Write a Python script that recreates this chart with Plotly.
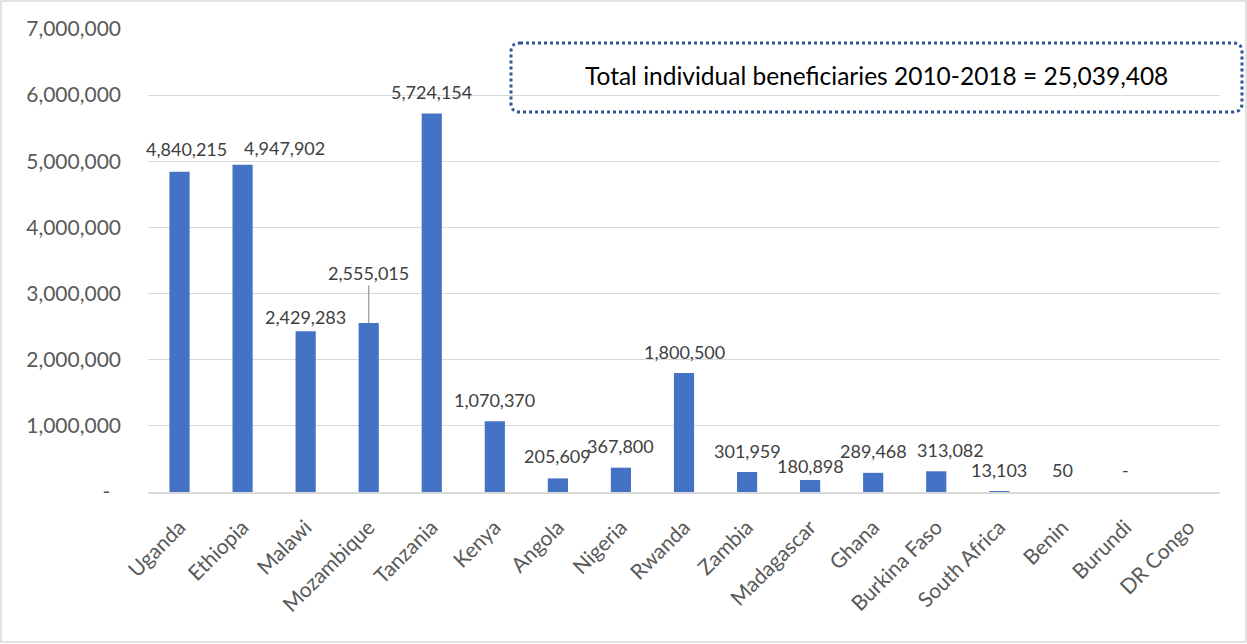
import plotly.graph_objects as go

# Beneficiaries per country, 2010-2018
countries = ["Uganda", "Ethiopia", "Malawi", "Mozambique", "Tanzania", "Kenya",
             "Angola", "Nigeria", "Rwanda", "Zambia", "Madagascar", "Ghana",
             "Burkina Faso", "South Africa", "Benin", "Burundi", "DR Congo"]
beneficiaries = [4840215, 4947902, 2429283, 2555015, 5724154, 1070370,
                 205609, 367800, 1800500, 301959, 180898, 289468,
                 313082, 13103, 50, 0, None]

y_tick_values = [0, 1000000, 2000000, 3000000, 4000000, 5000000, 6000000, 7000000]
y_tick_labels = ["-\u00a0\u00a0", "1,000,000", "2,000,000", "3,000,000", "4,000,000",
                 "5,000,000", "6,000,000", "7,000,000"]
total_text = "Total individual beneficiaries 2010-2018 = 25,039,408"

# Pixel offsets of each value label relative to the top of its bar
label_dx = [7, 42, 0, 0, 0, 0, 0, 0, 0, 0, 0, 0, 14, 0, 0, 0, 0]
label_dy = [23, 17, 14, 50, 21, 21, 22, 22, 21, 21, 14, 22, 21, 21, 22, 22, 0]
leader_line = "Mozambique"

W, H = 1247, 644
L, R, T, B = 148, 1220, 29, 492
FONT = "Lato, 'Liberation Sans', Arial, sans-serif"
BAR_COLOR = "#4472C4"


def px_x(px):
    return (px - L) / (R - L)


def px_y(py):
    return (B - py) / (B - T)


fig = go.Figure(go.Bar(
    x=countries, y=beneficiaries, marker=dict(color=BAR_COLOR, line=dict(width=0)),
    width=0.32, hoverinfo="x+y",
))

annotations = []
for name, val, dx, dy in zip(countries, beneficiaries, label_dx, label_dy):
    if val is None:
        continue
    text = "-" if val == 0 else f"{val:,}"
    if name == leader_line:
        annotations.append(dict(
            x=name, y=val, xref="x", yref="y", text=text, showarrow=True,
            arrowhead=0, arrowwidth=1.5, arrowcolor="#A6A6A6", ax=dx, ay=-dy,
            standoff=0, font=dict(family=FONT, size=18, color="#404040"),
        ))
    else:
        annotations.append(dict(
            x=name, y=val, xref="x", yref="y", text=text, showarrow=False,
            xshift=dx, yshift=dy, yanchor="middle",
            font=dict(family=FONT, size=18, color="#404040"),
        ))

# Summary text inside the dotted box
annotations.append(dict(
    x=px_x(876), y=px_y(75), xref="paper", yref="paper", text=total_text,
    showarrow=False, xanchor="center", yanchor="middle",
    font=dict(family=FONT, size=24.5, color="#000000"),
))


def rounded_rect(x0, y0, x1, y1, r):
    pts = [
        f"M {px_x(x0 + r)},{px_y(y0)}",
        f"L {px_x(x1 - r)},{px_y(y0)}",
        f"Q {px_x(x1)},{px_y(y0)} {px_x(x1)},{px_y(y0 + r)}",
        f"L {px_x(x1)},{px_y(y1 - r)}",
        f"Q {px_x(x1)},{px_y(y1)} {px_x(x1 - r)},{px_y(y1)}",
        f"L {px_x(x0 + r)},{px_y(y1)}",
        f"Q {px_x(x0)},{px_y(y1)} {px_x(x0)},{px_y(y1 - r)}",
        f"L {px_x(x0)},{px_y(y0 + r)}",
        f"Q {px_x(x0)},{px_y(y0)} {px_x(x0 + r)},{px_y(y0)}",
        "Z",
    ]
    return " ".join(pts)


shapes = [
    # dotted callout box
    dict(type="path", xref="paper", yref="paper",
         path=rounded_rect(511, 43, 1242, 112, 9),
         line=dict(color="#2F5597", width=3, dash="dot")),
    # outer chart frame
    dict(type="rect", xref="paper", yref="paper",
         x0=px_x(1), x1=px_x(W - 1), y0=px_y(1), y1=px_y(H - 2),
         line=dict(color="#D9D9D9", width=1.5), layer="below"),
]

fig.update_layout(
    width=W, height=H, autosize=False,
    margin=dict(l=L, r=W - R, t=T, b=H - B, pad=0),
    paper_bgcolor="white", plot_bgcolor="white",
    showlegend=False,
    bargap=0.68,
    annotations=annotations,
    shapes=shapes,
    font=dict(family=FONT, color="#595959"),
)

fig.update_xaxes(
    type="category", range=[-0.5, len(countries) - 0.5],
    tickangle=-45, tickfont=dict(family=FONT, size=21, color="#595959"),
    showgrid=False, showline=True, linecolor="#D9D9D9", linewidth=1.5,
    ticks="outside", ticklen=13, tickcolor="rgba(0,0,0,0)",
    zeroline=False,
)
fig.update_yaxes(
    range=[0, 7000000], tickvals=y_tick_values, ticktext=y_tick_labels,
    tickfont=dict(family=FONT, size=21, color="#595959"),
    showgrid=True, gridcolor="#D9D9D9", gridwidth=1,
    showline=False, zeroline=False, ticks="", ticklabelstandoff=26,
)

fig.write_html("out.html")
